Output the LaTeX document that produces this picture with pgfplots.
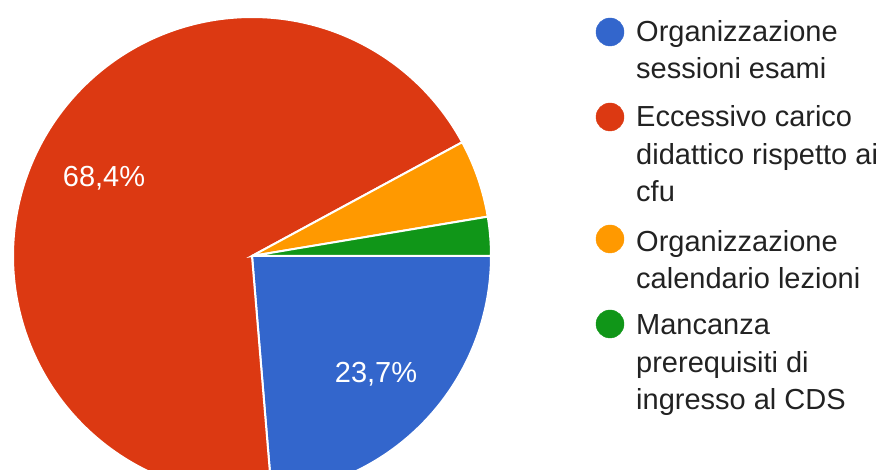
\documentclass[border=0pt]{standalone}
\usepackage{pgfplots}
\pgfplotsset{compat=1.18}
\usepackage{pgfplotstable}
\usepackage{fontspec}
\setmainfont{Liberation Sans}
\definecolor{gblue}{HTML}{3366CC}
\definecolor{gred}{HTML}{DC3912}
\definecolor{gorange}{HTML}{FF9900}
\definecolor{ggreen}{HTML}{109618}
\definecolor{gtext}{HTML}{222222}

\pgfplotstableread{
value
9
26
2
1
}\piedata

\pgfplotstablegetelem{0}{value}\of\piedata \let\va\pgfplotsretval
\pgfplotstablegetelem{1}{value}\of\piedata \let\vb\pgfplotsretval
\pgfplotstablegetelem{2}{value}\of\piedata \let\vc\pgfplotsretval
\pgfplotstablegetelem{3}{value}\of\piedata \let\vd\pgfplotsretval
\pgfmathsetmacro\tot{\va+\vb+\vc+\vd}
\pgfmathsetmacro\aA{-360*\va/\tot}
\pgfmathsetmacro\aB{\aA-360*\vb/\tot}
\pgfmathsetmacro\aC{\aB-360*\vc/\tot}
\pgfmathsetmacro\aD{\aC-360*\vd/\tot}

\begin{document}
\begin{tikzpicture}
\begin{axis}[
  scale only axis, width=884pt, height=470pt,
  xmin=0, xmax=884, ymin=0, ymax=470,
  hide axis, clip=true,
]
\addplot[fill=gblue, draw=white, line width=2pt, domain=\aA:0, samples=120]
  ({252+239*cos(x)},{214+239*sin(x)}) -- (axis cs:252,214) -- cycle;
\addplot[fill=gred, draw=white, line width=2pt, domain=\aB:\aA, samples=240]
  ({252+239*cos(x)},{214+239*sin(x)}) -- (axis cs:252,214) -- cycle;
\addplot[fill=gorange, draw=white, line width=2pt, domain=\aC:\aB, samples=40]
  ({252+239*cos(x)},{214+239*sin(x)}) -- (axis cs:252,214) -- cycle;
\addplot[fill=ggreen, draw=white, line width=2pt, domain=\aD:\aC, samples=40]
  ({252+239*cos(x)},{214+239*sin(x)}) -- (axis cs:252,214) -- cycle;

\node[white, anchor=base, font=\fontsize{29}{34}\selectfont] at (axis cs:104,283) {68,4\%};
\node[white, anchor=base, font=\fontsize{29}{34}\selectfont] at (axis cs:376,87) {23,7\%};

\addplot[only marks, mark=*, mark size=14pt, gblue] coordinates {(610,438)};
\addplot[only marks, mark=*, mark size=14pt, gred] coordinates {(610,353)};
\addplot[only marks, mark=*, mark size=14pt, gorange] coordinates {(610,231)};
\addplot[only marks, mark=*, mark size=14pt, ggreen] coordinates {(610,146)};

\begin{scope}[every node/.style={anchor=base west, text=gtext, inner sep=0pt, font=\fontsize{29}{34}\selectfont}]
\node at (axis cs:636,428) {Organizzazione};
\node at (axis cs:636,391) {sessioni esami};
\node at (axis cs:636,343) {Eccessivo carico};
\node at (axis cs:636,305.5) {didattico rispetto ai};
\node at (axis cs:636,268) {cfu};
\node at (axis cs:636,218) {Organizzazione};
\node at (axis cs:636,181) {calendario lezioni};
\node at (axis cs:636,135) {Mancanza};
\node at (axis cs:636,97.5) {prerequisiti di};
\node at (axis cs:636,60) {ingresso al CDS};
\end{scope}
\end{axis}
\pgfresetboundingbox
\useasboundingbox (current axis.south west) rectangle (current axis.north east);
\end{tikzpicture}
\end{document}
